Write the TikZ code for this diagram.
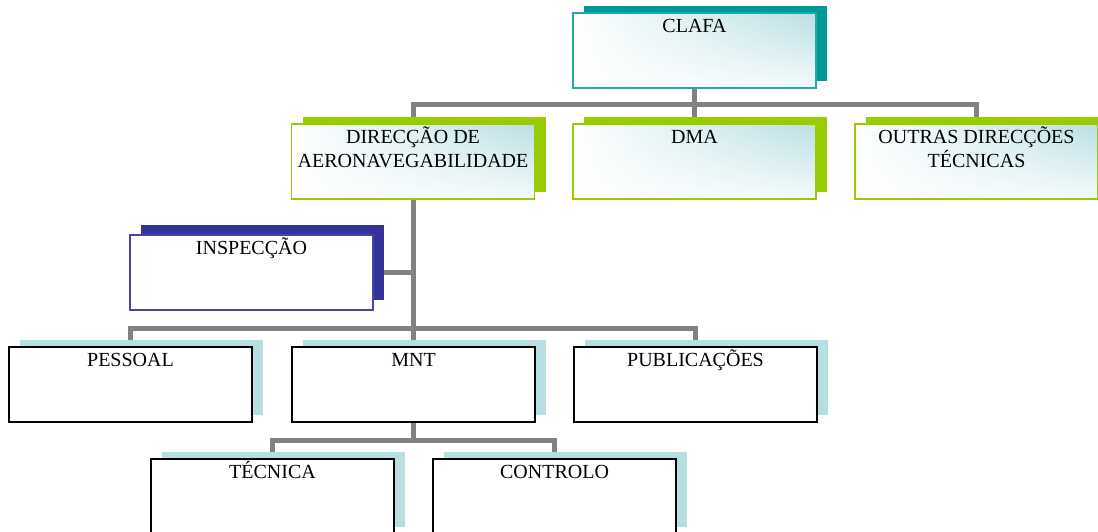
\documentclass[tikz,border=0pt]{standalone}
\usepackage{fontspec}
\setmainfont{Liberation Serif}
\usetikzlibrary{shadows,shadings}
\definecolor{tealS}{HTML}{009999}
\definecolor{tealB}{HTML}{26A6A6}
\definecolor{greenS}{HTML}{99CC00}
\definecolor{navyS}{HTML}{333399}
\definecolor{navyB}{HTML}{4444AA}
\definecolor{lightS}{HTML}{B7DFE2}
\definecolor{gradT}{HTML}{B9DFE3}
\definecolor{connC}{HTML}{828282}
\pgfdeclarelayer{background}
\pgfsetlayers{background,main}
\tikzset{
  box/.style={rectangle, minimum width=243pt, minimum height=75pt, inner sep=0pt, line width=1.8pt},
  grad/.style={upper left=white, upper right=gradT, lower left=white, lower right=white!85!gradT},
  lvl1/.style={box, grad, draw=tealB, copy shadow={shadow xshift=11pt, shadow yshift=7pt, fill=tealS, draw=none}},
  lvl2/.style={box, grad, draw=greenS, copy shadow={shadow xshift=11pt, shadow yshift=7pt, fill=greenS, draw=none}},
  lvlI/.style={box, fill=white, draw=navyB, copy shadow={shadow xshift=11pt, shadow yshift=10pt, fill=navyS, draw=none}},
  lvl3/.style={box, fill=white, draw=black, copy shadow={shadow xshift=11pt, shadow yshift=7pt, fill=lightS, draw=none}},
  txt/.style={label={[anchor=base, yshift=-20pt, align=center, font=\fontsize{20}{24.5}\selectfont]north:#1}},
  txtII/.style={label={[anchor=base, yshift=-44.5pt, align=center, font=\fontsize{20}{24.5}\selectfont]north:#1}},
  conn/.style={draw=connC, line width=5pt, line join=miter}
}
\begin{document}
\begin{tikzpicture}[x=1pt,y=1pt]
\useasboundingbox (0,0) rectangle (1098,-531);
\clip (0,0) rectangle (1098,-531);
\node[lvl1, txt=CLAFA] (clafa) at (694.5,-50.5) {};
\node[lvl2, txtII={DIRECÇÃO DE\\AERONAVEGABILIDADE}] (dir) at (413,-161.5) {};
\node[lvl2, txt=DMA] (dma) at (694.5,-161.5) {};
\node[lvl2, txtII={OUTRAS DIRECÇÕES\\TÉCNICAS}] (outras) at (976.5,-161.5) {};
\node[lvlI, txt=INSPECÇÃO] (insp) at (251.5,-272.5) {};
\node[lvl3, txt=PESSOAL] (pess) at (130.5,-384.5) {};
\node[lvl3, txt=MNT] (mnt) at (413.5,-384.5) {};
\node[lvl3, txt=PUBLICAÇÕES] (pub) at (695.5,-384.5) {};
\node[lvl3, txt=TÉCNICA] (tec) at (272.5,-496.5) {};
\node[lvl3, txt=CONTROLO] (ctrl) at (554.5,-496.5) {};
\coordinate (bus1) at (0,-104.5);
\coordinate (bus2) at (0,-328);
\coordinate (bus3) at (0,-440);
\begin{pgfonlayer}{background}
\draw[conn] (clafa.south) -- (dma.north);
\draw[conn] (dir.north) |- (outras.north |- bus1) -- (outras.north);
\draw[conn] (dir.south) -- (dir.south |- mnt.north);
\draw[conn] (insp.east) -- (insp.east -| dir.south);
\draw[conn] (pess.north) |- (pub.north |- bus2) -- (pub.north);
\draw[conn] (mnt.south) -- (mnt.south |- bus3);
\draw[conn] (tec.north) |- (ctrl.north |- bus3) -- (ctrl.north);
\end{pgfonlayer}
\end{tikzpicture}
\end{document}
